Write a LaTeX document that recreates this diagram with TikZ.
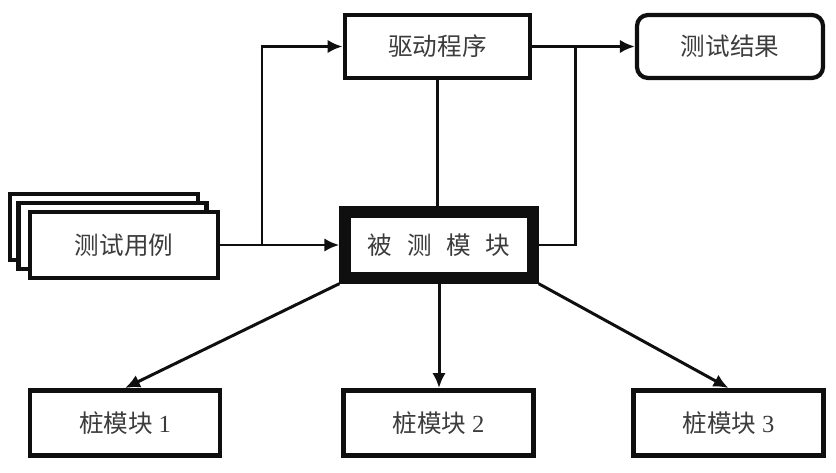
\documentclass[tikz,border=0pt]{standalone}
\usepackage{fontspec}
\setmainfont{Liberation Serif}
\newfontfamily\cjk{Noto Sans CJK SC}
\usepackage{tikz}
\usetikzlibrary{arrows.meta,positioning}
\definecolor{inkblack}{RGB}{15,15,15}
\definecolor{textgray}{RGB}{60,60,60}

\begin{document}
\begin{tikzpicture}[
    box/.style={draw=inkblack,line width=2.8pt,fill=white,minimum width=3.76cm,minimum height=1.32cm,inner sep=0pt,font=\cjk\fontsize{14}{16}\selectfont,text=textgray},
    mainbox/.style={box,line width=6.5pt},
    link/.style={line width=1.7pt,draw=inkblack},
    flow/.style={link,-{Latex[length=3mm,width=2.7mm]}}
  ]
  \useasboundingbox (0,0) rectangle (16.72,9.44);
  % stack of test cases
  \node[box] (case3) at (2.08,4.90) {};
  \node[box] (case2) at (2.25,4.72) {};
  \node[box] (case1) at (2.48,4.54) {测试用例};
  % driver, module under test and result
  \node[box,minimum width=3.7cm,minimum height=1.26cm] (driver) at (8.75,8.51) {驱动程序};
  \node[mainbox] (sut) at (8.78,4.54) {被\hspace{0.6em}测\hspace{0.6em}模\hspace{0.6em}块};
  \node[box,minimum width=3.72cm,minimum height=1.26cm,rounded corners=0.22cm,line width=2.4pt] (result) at (14.6,8.51) {测试结果};
  % stubs
  \node[box,minimum width=3.8cm,minimum height=1.3cm] (stub1) at (2.5,0.98) {桩模块 {\rmfamily 1}};
  \node[box,minimum width=3.8cm,minimum height=1.3cm] (stub2) at (8.77,0.98) {桩模块 {\rmfamily 2}};
  \node[box,minimum width=3.8cm,minimum height=1.3cm] (stub3) at (14.57,0.98) {桩模块 {\rmfamily 3}};
  \coordinate (split) at (5.24,4.54);
  \coordinate (merge) at (11.5,8.51);
  \draw[flow] (case1) -- (sut);
  \draw[flow] (split) |- (driver);
  \draw[link] (driver.south) -- (driver.south |- sut.north);
  \draw[flow] (driver) -- (result);
  \draw[link] (sut.east) -| (merge);
  \draw[flow] (sut.south) -- (sut.south |- stub2.north);
  \draw[flow] (sut.south west) -- (stub1.north);
  \draw[flow] (sut.south east) -- (stub3.north);
\end{tikzpicture}
\end{document}
